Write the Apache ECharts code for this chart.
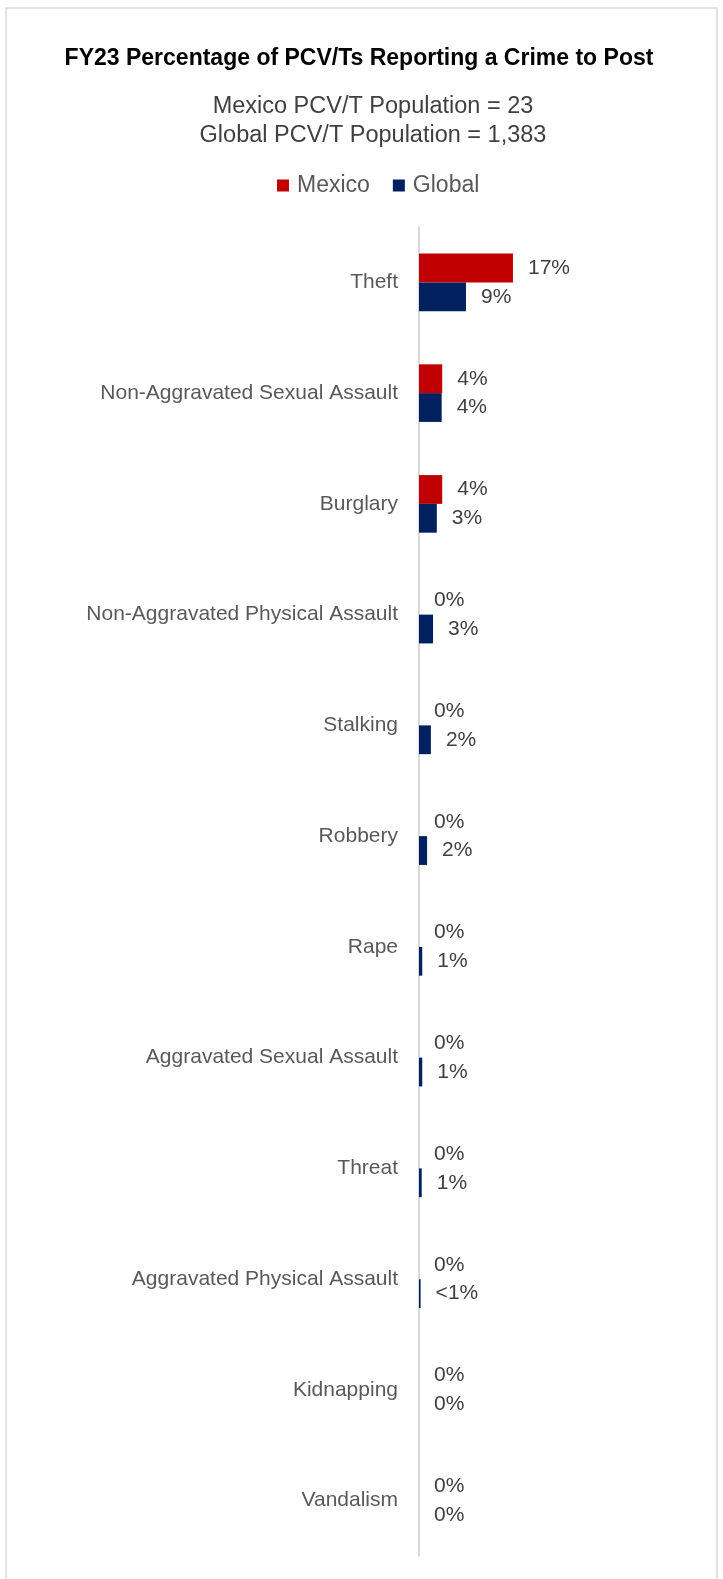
<!DOCTYPE html>
<html>
<head>
<meta charset="utf-8">
<script src="https://cdn.jsdelivr.net/npm/echarts@6/dist/echarts.min.js"></script>
<style>
html,body{margin:0;padding:0;background:#fff;}
#chart{width:723px;height:1579px;}
</style>
</head>
<body>
<div id="chart"></div>
<script>
const categories = [
  'Theft', 'Non-Aggravated Sexual Assault', 'Burglary', 'Non-Aggravated Physical Assault',
  'Stalking', 'Robbery', 'Rape', 'Aggravated Sexual Assault', 'Threat',
  'Aggravated Physical Assault', 'Kidnapping', 'Vandalism'
];
const mexicoValues = [17.4, 4.3, 4.3, 0, 0, 0, 0, 0, 0, 0, 0, 0];
const globalValues = [8.7, 4.2, 3.3, 2.6, 2.2, 1.5, 0.6, 0.6, 0.5, 0.3, 0, 0];
const mexicoLabels = ['17%', '4%', '4%', '0%', '0%', '0%', '0%', '0%', '0%', '0%', '0%', '0%'];
const globalLabels = ['9%', '4%', '3%', '3%', '2%', '2%', '1%', '1%', '1%', '<1%', '0%', '0%'];
const seriesNames = ['Mexico', 'Global'];
const titleText = 'FY23 Percentage of PCV/Ts Reporting a Crime to Post';
const subtitleLines = ['Mexico PCV/T Population = 23', 'Global PCV/T Population = 1,383'];

const FONT = "'Liberation Sans', Arial, sans-serif";
const chart = echarts.init(document.getElementById('chart'), null, {renderer: 'canvas'});

const labelCfg = (texts) => ({
  show: true,
  position: 'right',
  distance: 15,
  fontFamily: FONT,
  fontSize: 21,
  color: '#404040',
  formatter: (p) => texts[p.dataIndex]
});

chart.setOption({
  backgroundColor: '#ffffff',
  animation: false,
  graphic: [{
    type: 'rect',
    shape: {x: 6, y: 8, width: 711, height: 1620},
    style: {fill: 'none', stroke: '#d9d9d9', lineWidth: 1.5},
    silent: true
  }],
  title: [{
    text: titleText,
    left: 354,
    top: 42,
    textAlign: 'center',
    textStyle: {fontFamily: FONT, fontSize: 23, fontWeight: 'bold', color: '#000000'}
  }, {
    text: subtitleLines.join('\n'),
    left: 368,
    top: 87,
    textAlign: 'center',
    textStyle: {fontFamily: FONT, fontSize: 23.5, fontWeight: 'normal', color: '#404040', lineHeight: 29}
  }],
  legend: {
    data: seriesNames,
    left: 272,
    top: 169,
    icon: 'rect',
    itemWidth: 12,
    itemHeight: 12,
    itemGap: 23,
    textStyle: {fontFamily: FONT, fontSize: 23, color: '#595959', padding: [0, 0, 0, 3]}
  },
  grid: {left: 419, right: 34, top: 227, bottom: 23, containLabel: false},
  xAxis: {
    type: 'value',
    min: 0,
    max: 50,
    show: false,
    splitLine: {show: false}
  },
  yAxis: {
    type: 'category',
    data: categories,
    inverse: true,
    axisLine: {show: true, lineStyle: {color: '#d9d9d9', width: 2}},
    axisTick: {show: false},
    axisLabel: {margin: 21, fontFamily: FONT, fontSize: 21, color: '#595959'},
    splitLine: {show: false}
  },
  series: [{
    name: seriesNames[0],
    type: 'bar',
    data: mexicoValues,
    itemStyle: {color: '#C00000'},
    barGap: '0%',
    barCategoryGap: '48%',
    label: labelCfg(mexicoLabels)
  }, {
    name: seriesNames[1],
    type: 'bar',
    data: globalValues,
    itemStyle: {color: '#002060'},
    barGap: '0%',
    barCategoryGap: '48%',
    label: labelCfg(globalLabels)
  }]
});
</script>
</body>
</html>
